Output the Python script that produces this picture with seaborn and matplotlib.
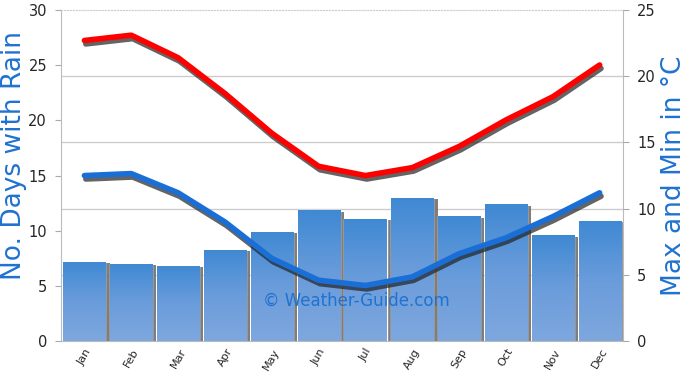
import numpy as np
import pandas as pd
import matplotlib
matplotlib.use('Agg')
import matplotlib.pyplot as plt
import matplotlib.patheffects as pe
import seaborn as sns

months = ['Jan', 'Feb', 'Mar', 'Apr', 'May', 'Jun', 'Jul', 'Aug', 'Sep', 'Oct', 'Nov', 'Dec']
rain_days = [7.2, 7.0, 6.85, 8.3, 9.9, 11.85, 11.1, 13.0, 11.3, 12.4, 9.6, 10.9]
temp_max = [22.7, 23.1, 21.4, 18.7, 15.7, 13.2, 12.5, 13.1, 14.7, 16.7, 18.45, 20.85]
temp_min = [12.5, 12.65, 11.2, 9.0, 6.25, 4.6, 4.2, 4.85, 6.6, 7.8, 9.4, 11.2]

blue_txt = '#1f72d0'

sns.set_style('white')
plt.rcParams['font.family'] = ['DejaVu Sans']

df = pd.DataFrame({'month': months, 'rain': rain_days,
                   'tmax': temp_max, 'tmin': temp_min})
df['pos'] = np.arange(len(df))

fig = plt.figure(figsize=(6.9, 3.85), dpi=100)
ax = fig.add_axes([0.0884, 0.114, 0.8146, 0.86])

sns.barplot(data=df, x='month', y='rain', color='#5d95d8', width=0.9,
            saturation=1, ax=ax, zorder=2)

# gradient fill + shadow on bars
grad = np.linspace(0, 1, 100).reshape(-1, 1)
cmap = matplotlib.colors.LinearSegmentedColormap.from_list(
    'rain', ['#7ea7de', '#6a9cdb', '#3f89d3'])
for bar in ax.patches:
    bar.set_path_effects([pe.SimplePatchShadow(offset=(3, -1), shadow_rgbFace='#707070', alpha=0.9),
                          pe.Normal()])
    x0, w, h = bar.get_x(), bar.get_width(), bar.get_height()
    im = ax.imshow(grad, extent=[x0, x0 + w, 0, h], origin='lower', cmap=cmap,
                   aspect='auto', zorder=3)
    im.set_clip_path(bar)

ax.set_xlim(-0.5, 11.5)
ax.set_ylim(0, 30)
ax.set_yticks([0, 5, 10, 15, 20, 25, 30])
ax.set_yticks([6, 12, 18, 24], minor=True)
ax.grid(which='minor', axis='y', color='#cccccc', linewidth=1, zorder=0)
ax.set_axisbelow(True)
ax.tick_params(axis='y', which='minor', length=0)
ax.tick_params(axis='y', which='major', labelsize=10.5, length=4, color='#aaaaaa', pad=6)
ax.set_xticks(np.arange(len(months)))
ax.set_xticklabels(months, rotation=60, fontsize=8)
ax.tick_params(axis='x', length=0, pad=4)
ax.set_xticks(np.arange(len(months) + 1) - 0.5, minor=True)
ax.tick_params(axis='x', which='minor', length=4, color='#aaaaaa')
ax.set_xlabel('')
ax.set_ylabel('No. Days with Rain', fontsize=19, color=blue_txt)
ax.yaxis.set_label_coords(-0.06, 0.56)
for s in ['left', 'bottom', 'right']:
    ax.spines[s].set_color('#bbbbbb')
ax.spines['top'].set_color('#cccccc')
ax.spines['top'].set_linestyle(':')

ax.text(5.8, 3.7, '© Weather-Guide.com', ha='center', va='center',
        fontsize=12, color=blue_txt, zorder=5)

ax2 = ax.twinx()
shadow = [pe.SimpleLineShadow(offset=(1, -2.5), shadow_color='#222222', alpha=0.7),
          pe.Normal()]
sns.lineplot(data=df, x='pos', y='tmax', color='#ff0000', linewidth=4,
             ax=ax2, path_effects=shadow)
sns.lineplot(data=df, x='pos', y='tmin', color='#1a6fd6', linewidth=4,
             ax=ax2, path_effects=shadow)
ax2.set_ylim(0, 25)
ax2.set_yticks([0, 5, 10, 15, 20, 25])
ax2.tick_params(axis='y', labelsize=10.5, length=4, color='#aaaaaa', pad=6)
ax2.set_xlim(-0.5, 11.5)
ax2.set_xlabel('')
ax2.set_ylabel('Max and Min in °C', fontsize=19, color=blue_txt)
ax2.yaxis.set_label_coords(1.068, 0.5)
for s in ax2.spines.values():
    s.set_visible(False)

fig.savefig('out.png', dpi=100)
